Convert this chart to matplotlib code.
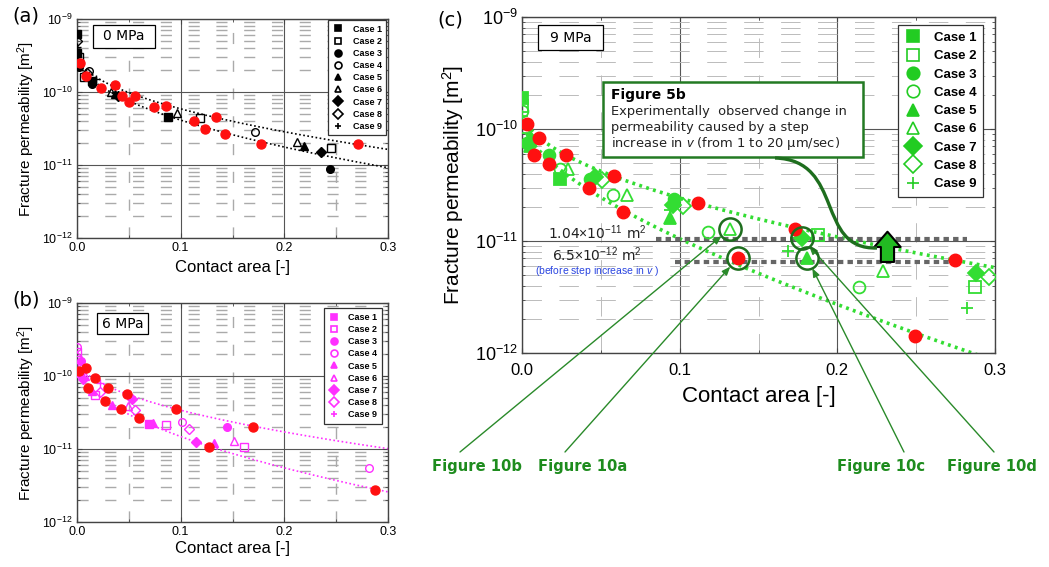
import numpy as np
import matplotlib
matplotlib.use('Agg')
import matplotlib.pyplot as plt
from matplotlib.patches import Rectangle, PathPatch
from matplotlib.path import Path
from matplotlib.lines import Line2D
from matplotlib.ticker import (LogLocator, MultipleLocator, NullFormatter,
                               FormatStrFormatter, LogFormatterSciNotation)

plt.rcParams['font.family'] = ['Liberation Sans', 'DejaVu Sans']
plt.rcParams['mathtext.fontset'] = 'custom'
plt.rcParams['mathtext.rm'] = 'Liberation Sans'
plt.rcParams['mathtext.it'] = 'Liberation Sans:italic'
plt.rcParams['mathtext.bf'] = 'Liberation Sans:bold'

# ---------------- data ----------------
case_names = ['Case 1', 'Case 2', 'Case 3', 'Case 4', 'Case 5',
              'Case 6', 'Case 7', 'Case 8', 'Case 9']
case_markers = ['s', 's', 'o', 'o', '^', '^', 'D', 'D', '+']
case_filled = [True, False, True, False, True, False, True, False, True]

# (a) 0 MPa
a_case_x = [[0.0, 0.0, 0.014, 0.088],
            [0.0015, 0.007, 0.119, 0.245],
            [0.002, 0.014, 0.244],
            [0.0, 0.012, 0.172],
            [0.037, 0.219],
            [0.033, 0.0965, 0.212],
            [0.040, 0.235],
            [0.0, 0.010],
            [0.0, 0.018]]
a_case_k = [[6.2e-10, 3.4e-10, 1.4e-10, 4.6e-11],
            [3.0e-10, 1.6e-10, 4.35e-11, 1.7e-11],
            [2.2e-10, 1.3e-10, 8.9e-12],
            [2.6e-10, 1.96e-10, 2.8e-11],
            [9.5e-11, 1.84e-11],
            [1.01e-10, 5.1e-11, 2.09e-11],
            [8.7e-11, 1.49e-11],
            [5.0e-10, 1.8e-10],
            [4.2e-10, 1.5e-10]]
a_red_hi_x = [0.003, 0.037, 0.056, 0.086, 0.134, 0.271]
a_red_hi_k = [2.47e-10, 1.25e-10, 8.8e-11, 6.4e-11, 4.5e-11, 1.92e-11]
a_red_lo_x = [0.009, 0.023, 0.043, 0.050, 0.074, 0.1125, 0.123, 0.143, 0.1775]
a_red_lo_k = [1.66e-10, 1.12e-10, 8.8e-11, 7.4e-11, 6.2e-11, 4.05e-11,
              3.15e-11, 2.66e-11, 1.92e-11]

# (b) 6 MPa
b_case_x = [[0.0, 0.0698],
            [0.0, 0.0177, 0.086, 0.161],
            [0.004, 0.1447],
            [0.0, 0.101, 0.282],
            [0.0145, 0.034, 0.073, 0.132],
            [0.008, 0.049, 0.151],
            [0.006, 0.053, 0.1145],
            [0.0, 0.022, 0.056, 0.108],
            [0.001, 0.022]]
b_case_k = [[1.1e-10, 2.2e-11],
            [2.1e-10, 5.5e-11, 2.1e-11, 1.07e-11],
            [1.6e-10, 2.0e-11],
            [2.5e-10, 2.37e-11, 5.5e-12],
            [6.2e-11, 4.0e-11, 2.24e-11, 1.2e-11],
            [1.0e-10, 3.9e-11, 1.29e-11],
            [9.0e-11, 4.8e-11, 1.26e-11],
            [1.8e-10, 6.0e-11, 3.4e-11, 1.86e-11],
            [1.5e-10, 8.1e-11]]
b_red_hi_x = [0.002, 0.009, 0.0177, 0.0296, 0.048, 0.0958, 0.170]
b_red_hi_k = [1.18e-10, 1.3e-10, 9.5e-11, 6.9e-11, 5.6e-11, 3.55e-11, 2.0e-11]
b_red_lo_x = [0.0106, 0.0273, 0.0428, 0.060, 0.1277, 0.2878]
b_red_lo_k = [6.9e-11, 4.6e-11, 3.55e-11, 2.7e-11, 1.07e-11, 2.75e-12]

# (c) 9 MPa
c_case_x = [[0.0, 0.024],
            [0.0, 0.188, 0.287],
            [0.003, 0.017, 0.043, 0.0966],
            [0.0, 0.024, 0.0575, 0.118, 0.2137],
            [0.005, 0.0938, 0.181],
            [0.002, 0.0294, 0.0664, 0.132, 0.229],
            [0.006, 0.046, 0.096, 0.1774, 0.288],
            [0.001, 0.0505, 0.102, 0.296],
            [0.0, 0.094, 0.169, 0.282]]
c_case_k = [[1.9e-10, 3.6e-11],
            [1.6e-10, 1.12e-11, 3.9e-12],
            [7.5e-11, 5.8e-11, 3.6e-11, 2.35e-11],
            [1.45e-10, 4.4e-11, 2.6e-11, 1.2e-11, 3.9e-12],
            [7.0e-11, 1.6e-11, 7.0e-12],
            [1.05e-10, 4.4e-11, 2.6e-11, 1.28e-11, 5.4e-12],
            [7.8e-11, 3.7e-11, 2.1e-11, 1.07e-11, 5.2e-12],
            [9.0e-11, 3.5e-11, 2.05e-11, 4.8e-12],
            [1.3e-10, 1.9e-11, 8.1e-12, 2.5e-12]]
c_red_hi_x = [0.0108, 0.0279, 0.0586, 0.1118, 0.173, 0.2746]
c_red_hi_k = [8.35e-11, 5.86e-11, 3.8e-11, 2.2e-11, 1.28e-11, 6.8e-12]
c_red_lo_x = [0.0034, 0.0078, 0.0173, 0.0423, 0.0638, 0.1368, 0.249]
c_red_lo_k = [1.11e-10, 5.9e-11, 4.84e-11, 2.95e-11, 1.82e-11, 7.0e-12, 1.43e-12]

# permeability before / after the step increase in v
step_levels = [1.04e-11, 6.5e-12]
step_x_start = [0.085, 0.097]
step_x_end = [0.282, 0.275]
arrow_x = 0.2318
arrow_top = 1.21e-11

# points examined in Figure 10 a-d
fig10_names = ['Figure 10b', 'Figure 10a', 'Figure 10c', 'Figure 10d']
fig10_x = [0.132, 0.1368, 0.181, 0.1774]
fig10_k = [1.28e-11, 7.0e-12, 7.0e-12, 1.07e-11]
fig10_label_x = [477, 583, 881, 992]
fig10_line_x = [460, 565, 904, 994]

W, H = 1049, 567


def fx(px):
    return px / W


def fy(py):
    return 1 - py / H


def fit_curve(xs, ks, deg, x0=0.003, x1=0.3):
    coef = np.polyfit(np.sqrt(xs), np.log10(ks), deg)
    xx = np.linspace(x0, x1, 300)
    return xx, 10 ** np.polyval(coef, np.sqrt(xx))


def style_axes(ax, minor_ls, minor_color, minor_lw, xsize, ysize, xpad):
    ax.set_yscale('log')
    ax.set_xlim(0, 0.3)
    ax.set_ylim(1e-12, 1e-9)
    ax.xaxis.set_major_locator(MultipleLocator(0.1))
    ax.xaxis.set_minor_locator(MultipleLocator(0.05))
    ax.xaxis.set_major_formatter(FormatStrFormatter('%.1f'))
    ax.yaxis.set_major_locator(LogLocator(10, numticks=10))
    ax.yaxis.set_minor_locator(LogLocator(10, subs=np.arange(2, 10), numticks=10))
    ax.yaxis.set_major_formatter(LogFormatterSciNotation())
    ax.yaxis.set_minor_formatter(NullFormatter())
    ax.grid(True, which='major', color='#555555', lw=0.8)
    ax.grid(True, which='minor', color=minor_color, lw=minor_lw, ls=minor_ls)
    ax.set_axisbelow(True)
    ax.tick_params(which='both', direction='in', top=True, right=True,
                   color='#444444')
    ax.tick_params(axis='x', labelsize=xsize, pad=xpad)
    ax.tick_params(axis='y', labelsize=ysize, pad=3)
    for s in ax.spines.values():
        s.set_color('#444444')
        s.set_linewidth(1.0)


def plot_cases(ax, xs, ks, color, ms, mew):
    for i in range(9):
        fc = color if case_filled[i] else 'none'
        ax.plot(xs[i], ks[i], ls='none', marker=case_markers[i], ms=ms,
                mfc=fc, mec=color, mew=mew, zorder=3)


def case_legend(ax, color, ms, fsize, anchor, spacing):
    handles = []
    for i in range(9):
        fc = color if case_filled[i] else 'none'
        handles.append(Line2D([], [], ls='none', marker=case_markers[i], ms=ms,
                              mfc=fc, mec=color, mew=1.2))
    leg = ax.legend(handles, case_names, loc='upper right', bbox_to_anchor=anchor,
                    borderaxespad=0, fancybox=False, framealpha=1,
                    edgecolor='#333333', prop={'weight': 'bold', 'size': fsize},
                    labelspacing=spacing, handlelength=1.2, handletextpad=1.0,
                    borderpad=0.5)
    leg.get_frame().set_linewidth(0.9)
    leg.set_zorder(6)


def text_box(x0, y0, x1, y1, ec, lw):
    fig.add_artist(Rectangle((fx(x0), fy(y1)), fx(x1) - fx(x0), fy(y0) - fy(y1),
                             transform=fig.transFigure, fc='white', ec=ec, lw=lw,
                             zorder=5))


fig = plt.figure(figsize=(W / 100, H / 100), dpi=100)
ax_a = fig.add_axes([fx(77), fy(238), fx(388) - fx(77), fy(19) - fy(238)])
ax_b = fig.add_axes([fx(77), fy(522), fx(388) - fx(77), fy(303) - fy(522)])
ax_c = fig.add_axes([fx(522), fy(353), fx(995) - fx(522), fy(17) - fy(353)])

red = '#ff1010'
magenta = '#ff30ff'
green = '#33dd33'
dark_green = '#1e6e1e'

# ---------- (a) ----------
style_axes(ax_a, (0, (8, 12)), '#aaaaaa', 1.0, 9, 9, 3)
for xs, ks in [(a_red_hi_x, a_red_hi_k), (a_red_lo_x, a_red_lo_k)]:
    xx, kk = fit_curve(xs, ks, 1)
    ax_a.plot(xx, kk, ls=(0, (1, 1.5)), color='black', lw=1.2, zorder=2)
plot_cases(ax_a, a_case_x, a_case_k, 'black', 5.5, 1.0)
ax_a.plot(a_red_hi_x + a_red_lo_x, a_red_hi_k + a_red_lo_k, ls='none', marker='o',
          ms=6.5, color=red, mec=red, zorder=4)
case_legend(ax_a, 'black', 5, 6.5, (0.995, 0.995), 0.35)
ax_a.set_xlabel('Contact area [-]', fontsize=12, labelpad=4)
ax_a.set_ylabel('Fracture permeability [m$^2$]', fontsize=11, labelpad=4)

# ---------- (b) ----------
style_axes(ax_b, (0, (8, 12)), '#aaaaaa', 1.0, 9, 9, 3)
for xs, ks in [(b_red_hi_x, b_red_hi_k), (b_red_lo_x, b_red_lo_k)]:
    xx, kk = fit_curve(xs, ks, 1)
    ax_b.plot(xx, kk, ls=(0, (1, 1.5)), color=magenta, lw=1.2, zorder=2)
plot_cases(ax_b, b_case_x, b_case_k, magenta, 5.5, 1.0)
ax_b.plot(b_red_hi_x + b_red_lo_x, b_red_hi_k + b_red_lo_k, ls='none', marker='o',
          ms=6.5, color=red, mec=red, zorder=4)
case_legend(ax_b, magenta, 5, 6.5, (0.98, 0.975), 0.35)
ax_b.set_xlabel('Contact area [-]', fontsize=12, labelpad=2)
ax_b.set_ylabel('Fracture permeability [m$^2$]', fontsize=11, labelpad=4)

# ---------- (c) ----------
style_axes(ax_c, (0, (20, 18)), '#bbbbbb', 0.7, 12, 13, 7)
for xs, ks in [(c_red_hi_x, c_red_hi_k), (c_red_lo_x, c_red_lo_k)]:
    xx, kk = fit_curve(xs, ks, 2)
    ax_c.plot(xx, kk, ls=(0, (0.8, 1.2)), color=green, lw=2.6, zorder=2)
for lev, x0, x1 in zip(step_levels, step_x_start, step_x_end):
    ax_c.plot([x0, x1], [lev, lev], ls=(0, (1.3, 1.0)), color='#666666', lw=3,
              zorder=2.5)
plot_cases(ax_c, c_case_x, c_case_k, green, 8.5, 1.3)
ax_c.plot(c_red_hi_x + c_red_lo_x, c_red_hi_k + c_red_lo_k, ls='none', marker='o',
          ms=9, color=red, mec=red, zorder=4)
ax_c.plot(fig10_x, fig10_k, ls='none', marker='o', ms=16, mfc='none',
          mec=dark_green, mew=1.8, zorder=4.5)
case_legend(ax_c, '#22cc22', 9, 9.5, (0.975, 0.976), 0.46)
ax_c.set_xlabel('Contact area [-]', fontsize=16, labelpad=6)
ax_c.set_ylabel('Fracture permeability [m$^2$]', fontsize=15, labelpad=6)

# up arrow: permeability jump after the step increase
ax_c.annotate('', xy=(arrow_x, arrow_top), xytext=(arrow_x, step_levels[1]),
              arrowprops=dict(arrowstyle='simple,head_width=19,head_length=11,tail_width=9.5',
                              mutation_scale=1, fc='#22bb22', ec='black', lw=1.5,
                              shrinkA=0, shrinkB=0), zorder=6)

# value labels
fig.text(fx(597), fy(233), r'1.04$\times$10$^{-11}$ m$^2$', ha='center', va='center',
         fontsize=10, family='DejaVu Sans', color='#222222')
fig.text(fx(597), fy(255), r'6.5$\times$10$^{-12}$ m$^2$', ha='center', va='center',
         fontsize=10, family='DejaVu Sans', color='#222222')
fig.text(fx(597), fy(271), '(before step increase in $v$ )', ha='center', va='center',
         fontsize=7.5, color='#2a45e0')

# Figure 5b note box and curved pointer
text_box(603, 82, 863, 157, '#237a23', 1.8)
fig.text(fx(611), fy(95), 'Figure 5b', ha='left', va='center', fontsize=10,
         weight='bold', family='DejaVu Sans', zorder=7)
note_lines = ['Experimentally  observed change in',
              'permeability caused by a step',
              'increase in $v$ (from 1 to 20 μm/sec)']
for line, py in zip(note_lines, [112, 127, 143]):
    fig.text(fx(611), fy(py), line, ha='left', va='center', fontsize=9.4,
             family='DejaVu Sans', color='#222222', zorder=7)

pts = [(775, 158), (845, 160), (815, 250), (877, 248)]
curve = Path([(fx(x), fy(y)) for x, y in pts],
             [Path.MOVETO, Path.CURVE4, Path.CURVE4, Path.CURVE4])
fig.add_artist(PathPatch(curve, fc='none', ec=dark_green, lw=2.4,
                         transform=fig.transFigure, zorder=5))

# MPa boxes
text_box(93, 25, 155, 48, 'black', 0.9)
fig.text(fx(124), fy(36.5), '0 MPa', ha='center', va='center', fontsize=10,
         family='DejaVu Sans', zorder=7)
text_box(97, 313, 148, 334, 'black', 0.9)
fig.text(fx(122.5), fy(323.5), '6 MPa', ha='center', va='center', fontsize=10,
         family='DejaVu Sans', zorder=7)
text_box(538, 25, 603, 50, 'black', 0.9)
fig.text(fx(570.5), fy(37.5), '9 MPa', ha='center', va='center', fontsize=10,
         family='DejaVu Sans', zorder=7)

# panel letters
for lab, px, py in [('(a)', 12, 16), ('(b)', 12, 300), ('(c)', 437, 20)]:
    fig.text(fx(px), fy(py), lab, ha='left', va='center', fontsize=14,
             family='DejaVu Sans')

# Figure 10 pointers
for name, x, k, lx, tx in zip(fig10_names, fig10_x, fig10_k, fig10_line_x,
                              fig10_label_x):
    ax_c.annotate('', xy=(x, k), xytext=(fx(lx), fy(452)),
                  textcoords='figure fraction',
                  arrowprops=dict(arrowstyle='-|>,head_length=0.5,head_width=0.2',
                                  color='#2a8a2a', lw=1.0, shrinkA=0, shrinkB=8))
    fig.text(fx(tx), fy(467), name, ha='center', va='center', fontsize=10.6,
             weight='bold', family='DejaVu Sans', color='#1e8c1e')

fig.savefig('out.png', dpi=100)
